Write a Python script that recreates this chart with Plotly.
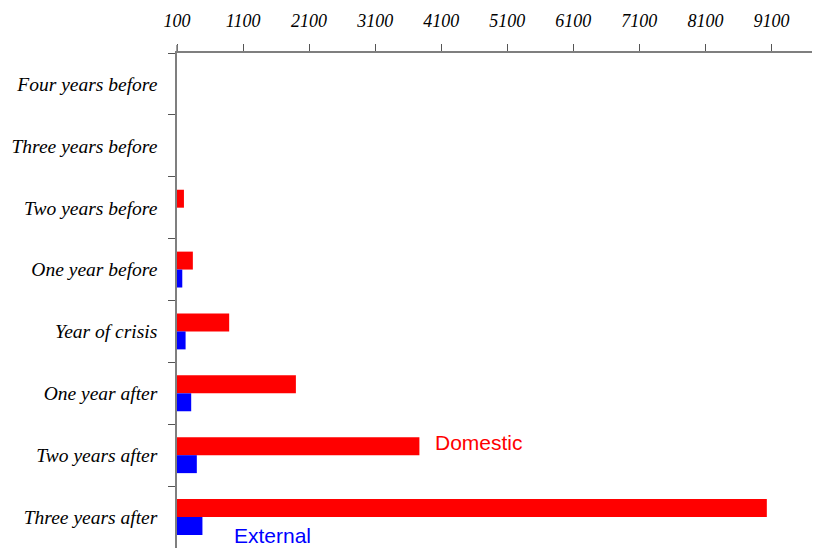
import plotly.graph_objects as go

categories = ["Four years before", "Three years before", "Two years before", "One year before",
              "Year of crisis", "One year after", "Two years after", "Three years after"]
domestic = [50, 80, 205, 340, 890, 1900, 3770, 9030]
external = [0, 0, 20, 180, 230, 315, 400, 485]
tick_vals = [100, 1100, 2100, 3100, 4100, 5100, 6100, 7100, 8100, 9100]

fig = go.Figure()
fig.add_trace(go.Bar(y=categories, x=domestic, orientation="h", name="Domestic",
                     marker=dict(color="#ff0000", line=dict(width=0))))
fig.add_trace(go.Bar(y=categories, x=external, orientation="h", name="External",
                     marker=dict(color="#0000ff", line=dict(width=0))))

x_font = dict(family="Liberation Serif", size=18, color="black", style="italic")
y_font = dict(family="Liberation Serif", size=19.5, color="black", style="italic")

# page body has an 8px margin, so the figure is sized/offset to compensate
fig.update_layout(
    width=812, height=540,
    margin=dict(l=169, r=0, t=45, b=0),
    paper_bgcolor="white", plot_bgcolor="white",
    barmode="group", bargap=0.42, bargroupgap=0,
    showlegend=False,
    xaxis=dict(side="top", range=[100, 9835], tickvals=tick_vals,
               ticktext=[str(v) for v in tick_vals], automargin=False,
               showgrid=False, zeroline=False, showline=True, linecolor="#7f7f7f",
               linewidth=1.5, ticks="outside", ticklen=7, tickcolor="#555555",
               tickfont=x_font, ticklabelstandoff=10),
    yaxis=dict(autorange="reversed", showgrid=False, zeroline=False, showline=True,
               linecolor="#7f7f7f", linewidth=1.5, ticks="outside", ticklen=7,
               tickcolor="#555555", tickson="boundaries", tickfont=y_font,
               automargin=False, ticklabelstandoff=14),
    shapes=[dict(type="line", xref="paper", yref="paper", x0=0, x1=0, y0=1, y1=1.016,
                 line=dict(color="#7f7f7f", width=1.5))],
    annotations=[
        dict(text="Domestic", xref="paper", yref="paper", x=0.47, y=0.2126,
             xanchor="center", yanchor="middle",
             showarrow=False, font=dict(family="Liberation Sans", size=21, color="#ff0000")),
        dict(text="External", xref="paper", yref="paper", x=0.149, y=0.026,
             xanchor="center", yanchor="middle",
             showarrow=False, font=dict(family="Liberation Sans", size=21, color="#0000ff")),
    ],
)

fig.write_html("out.html")
